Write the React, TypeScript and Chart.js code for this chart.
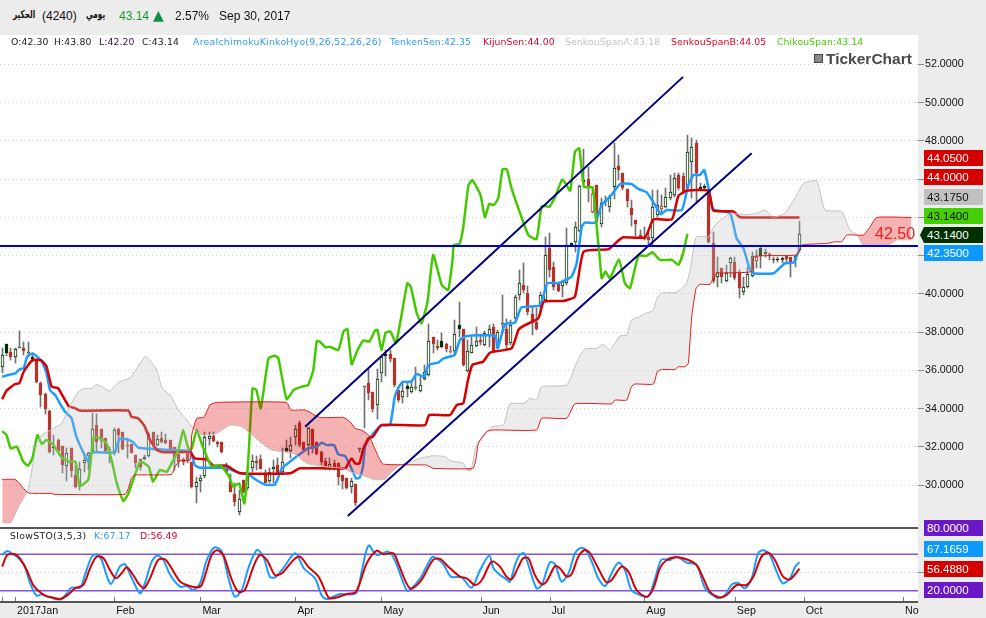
import { useEffect, useRef } from 'react';
import Chart from 'chart.js/auto';

type Pt = [number, number]; // [bar index, value]

const BAR_SLOTS = 213; // trading bars + 26 forward bars of the cloud

const opens = [
  36.2,36.93,36.95,36.72,37.2,37.17,36.95,36.6,36.55,35.32,
  34.77,33.88,31.95,32.36,32.05,31.0,31.93,30.53,29.95,31.14,
  31.55,31.8,33.15,32.92,32.45,31.9,31.66,32.94,32.76,32.1,
  32.13,31.58,31.35,31.35,31.53,32.8,32.1,32.45,32.36,32.36,
  31.98,31.63,31.35,31.63,31.23,29.92,30.23,30.5,32.42,32.57,
  32.27,32.24,30.88,30.23,29.52,28.62,30.27,29.83,30.9,31.26,
  31.35,30.53,30.23,30.83,31.05,30.7,31.8,31.8,32.5,33.23,
  32.27,32.1,32.92,32.25,31.75,31.26,30.91,31.14,31.14,30.53,
  30.4,29.92,30.04,31.9,35.12,35.33,34.86,34.18,35.85,36.77,
  36.84,36.63,34.98,34.63,35.05,34.89,35.1,34.91,35.54,35.75,
  37.73,37.28,37.24,37.38,37.03,37.03,38.19,38.15,35.99,36.93,
  37.3,37.59,37.35,37.82,38.26,37.16,38.45,38.15,37.42,38.73,
  39.93,40.47,40.07,38.95,38.55,39.34,39.68,42.42,41.43,40.64,
  40.42,40.56,42.58,42.74,43.29,45.85,46.0,45.23,45.7,43.64,
  44.8,44.53,45.61,46.69,46.31,45.47,44.48,43.87,43.09,43.0,
  43.0,42.95,44.13,44.6,44.53,45.0,45.18,46.22,46.17,45.53,
  46.89,47.88,45.51,45.56,45.35,42.65,40.87,41.34,40.7,41.64,
  41.66,41.08,40.12,40.38,40.94,41.92,41.99,42.11,42.07,41.81,
  41.78,41.76,41.99,41.92,41.78,42.3,
];
const closes = [
  36.8,37.38,36.72,37.1,37.2,37.03,36.95,36.7,35.4,34.7,
  33.97,31.75,31.98,31.8,31.05,31.7,30.76,29.92,30.83,31.3,
  31.66,32.92,32.27,32.33,31.8,31.85,32.87,32.62,31.89,32.08,
  31.7,31.14,30.97,31.45,32.7,32.1,32.4,32.27,32.2,31.87,
  31.4,31.23,31.23,31.28,29.92,30.15,30.35,32.5,32.57,32.33,
  32.15,31.75,30.67,29.66,29.14,29.3,29.66,30.48,31.26,31.14,
  30.84,30.13,30.7,30.93,30.62,31.23,31.93,32.1,32.92,32.1,
  31.84,32.97,32.0,31.63,31.19,31.02,31.09,30.91,30.44,30.23,
  29.87,30.21,29.05,31.93,35.17,34.84,33.98,35.54,36.69,36.84,
  36.62,35.24,34.45,34.93,35.19,35.12,35.15,35.24,35.94,37.56,
  37.4,37.17,37.56,37.12,36.95,37.89,38.36,36.29,37.0,37.31,
  37.52,37.5,37.98,38.15,37.02,38.0,38.5,37.33,38.4,39.82,
  40.56,40.21,39.07,38.5,38.17,39.93,42.04,41.25,40.38,40.17,
  40.64,42.56,42.65,43.49,45.65,45.96,45.61,44.31,43.78,44.74,
  44.85,45.0,46.57,46.48,45.53,44.86,44.13,43.66,42.91,42.88,
  42.82,44.53,44.65,44.46,45.05,45.35,46.05,45.53,45.35,47.44,
  47.67,46.31,45.58,45.67,42.74,40.7,41.17,40.87,41.08,41.87,
  40.82,40.33,40.35,41.03,41.99,41.74,42.42,42.21,41.99,41.76,
  41.85,41.87,41.85,41.69,42.0,43.14,
];
const highs = [
  37.15,37.4,37.15,37.15,38.06,37.47,37.47,36.9,36.6,35.4,
  34.8,33.93,32.6,32.4,32.05,31.93,31.93,31.05,31.22,31.66,
  31.75,33.75,33.7,32.92,32.45,32.0,33.0,33.0,32.76,32.45,
  32.13,31.58,31.35,31.58,32.8,32.8,32.6,32.8,32.7,32.36,
  31.98,31.63,31.4,31.75,31.23,30.45,30.53,32.8,32.8,32.8,
  32.3,32.24,31.14,30.58,30.1,29.74,30.27,30.58,31.58,31.53,
  31.58,30.8,30.88,31.3,31.4,31.93,32.36,32.5,33.15,33.35,
  32.27,33.06,32.92,32.25,31.8,31.4,31.4,31.31,31.14,30.53,
  30.4,30.35,30.04,31.93,35.19,36.06,34.86,36.06,36.81,37.07,
  37.07,36.63,34.98,35.47,35.41,35.41,36.2,35.71,36.28,38.43,
  37.73,37.59,37.94,37.42,37.28,38.64,39.56,38.15,37.59,37.77,
  38.26,37.85,38.06,38.38,38.43,38.12,39.97,38.67,38.64,39.95,
  41.25,41.64,40.42,39.34,39.25,40.12,43.0,43.17,41.69,40.64,
  40.75,43.43,42.65,43.78,45.7,47.57,46.66,45.61,45.7,45.0,
  45.1,45.18,47.91,47.27,46.31,45.47,44.92,43.87,43.35,43.52,
  43.26,45.44,45.44,45.18,45.53,46.22,46.31,46.31,46.31,48.32,
  48.14,48.05,45.8,45.75,45.44,43.26,41.95,41.34,41.52,41.95,
  41.95,41.25,40.91,41.43,42.21,42.3,42.47,42.34,42.13,41.95,
  41.92,41.95,41.99,41.95,42.04,43.8,
];
const lows = [
  35.85,36.75,36.55,36.37,37.15,36.8,36.72,36.46,35.35,34.1,
  33.72,31.67,31.6,31.7,30.65,30.23,30.45,29.83,29.75,30.7,
  30.8,31.66,31.8,31.93,31.75,31.15,31.58,31.66,31.84,31.43,
  31.66,30.88,30.8,31.3,31.45,32.0,32.05,32.2,32.15,31.8,
  30.8,30.97,31.05,31.14,29.83,29.05,29.66,30.35,32.1,32.27,
  32.0,31.7,30.6,29.66,28.9,28.44,29.57,29.74,30.7,30.8,
  30.84,30.09,30.09,30.09,30.62,30.62,31.75,31.4,32.1,32.0,
  31.75,31.58,31.66,31.57,31.05,30.79,30.79,30.79,30.0,29.78,
  29.78,29.6,28.9,31.75,33.0,34.46,33.84,33.44,35.41,35.71,
  36.46,35.15,34.37,34.32,34.63,34.8,34.98,34.89,35.5,35.71,
  36.9,37.07,37.16,36.98,36.9,36.86,37.73,36.23,35.94,36.9,
  37.24,37.33,37.28,37.24,36.98,37.1,38.0,37.07,37.33,38.55,
  39.68,40.03,38.9,37.85,38.12,38.9,39.6,40.9,40.2,40.12,
  39.86,40.47,42.58,42.21,43.26,45.7,44.83,44.22,43.7,43.52,
  44.6,44.3,44.97,45.96,45.44,44.57,43.56,43.03,42.86,42.82,
  42.56,42.56,44.04,44.13,44.48,44.92,45.09,45.44,45.23,45.44,
  45.0,44.74,45.5,45.5,42.68,40.56,40.38,40.56,40.64,40.9,
  40.73,39.77,39.95,40.3,40.9,41.34,41.34,41.95,41.78,41.6,
  41.69,41.64,41.69,40.87,41.43,42.2,
];
// up bars that read as solid dark, down bars that read as outlines
const solidUp = [1, 7, 12, 66, 89, 94, 102, 106, 132, 135, 162, 163, 176, 180];
const hollowDown = [104, 137, 153, 175];

const tenkan: Pt[] = [
  [0,35.67],[1.4,35.76],[3,35.85],[4.1,36.07],[5,36.11],[5.8,36.72],[7,36.89],[8,36.75],[9.2,36.46],[10.3,35.85],
  [11.1,34.97],[12.3,34.71],[13.4,34.28],[14.6,33.84],[16.1,33.5],[17.1,32.62],[18.4,31.92],[20,31.23],[20.8,31.7],[25,31.7],
  [26.2,31.75],[27.2,32.41],[28.9,32.4],[30.4,32.24],[31.6,31.96],[43.2,31.8],[43.7,31.84],[44.7,31.05],[45.9,30.91],[52.1,30.91],
  [52.9,30.83],[54.8,30.65],[57.1,30.58],[59,30.27],[61,30.03],[63.3,30.03],[64.9,30.88],[66.8,31.23],[69.1,31.63],[71,31.92],
  [73,32.01],[74.1,32.22],[75.3,32.1],[77,32.1],[78,31.61],[79.6,31.52],[80.7,31.05],[82.1,30.35],[83,30.41],[83.7,30.96],
  [84.2,32.0],[85.2,32.45],[88,33.14],[90,33.14],[91.1,34.63],[92.3,35.24],[93,35.4],[95,35.43],[96.1,35.81],[98,35.67],
  [98.9,36.29],[101.2,36.41],[102.4,36.63],[105,36.81],[106.2,37.59],[107.8,37.8],[114.4,37.8],[115,37.16],[116.7,38.43],[119,38.5],
  [120.5,39.3],[124.8,39.4],[126.5,40.56],[129,40.56],[132.1,40.9],[133.3,41.6],[134.5,43.52],[135.2,43.73],[137.6,43.73],[139.1,44.65],
  [141.4,45.18],[143.4,45.75],[146,45.75],[147.6,45.49],[149.5,45.32],[151.5,44.65],[152.8,44.17],[154.2,44.39],[157.7,44.39],[159.2,45.7],
  [160.4,46.22],[161.9,46.22],[162.9,46.48],[163.9,45.53],[165,44.43],[168.9,44.22],[170.4,42.91],[172,42.39],[173.4,41.34],[174.3,41.08],
  [179,41.08],[181.6,41.6],[183.6,41.64],[185,42.35],
];
const kijun: Pt[] = [
  [0,34.49],[1,34.94],[3,35.29],[4,35.33],[5,35.93],[7,36.54],[9,36.54],[10.3,36.2],[11.5,35.15],[13,35.06],
  [15.4,34.14],[17,34.02],[18,33.9],[29.3,33.9],[30,33.58],[31.6,33.49],[33.1,33.06],[34.3,32.36],[35.9,31.84],[37.4,31.72],
  [43.6,31.72],[44.7,31.4],[47.5,31.35],[49,31.02],[52,31.02],[55.2,30.62],[66.8,30.62],[69.1,30.88],[79.6,30.88],[80.3,31.14],
  [81.1,31.4],[81.9,31.14],[82.9,31.14],[83.8,31.92],[85,32.45],[86,32.53],[88,33.14],[98.1,33.14],[99.1,33.67],[103.9,33.67],
  [105.5,34.19],[107,34.28],[108,35.41],[109.1,36.29],[111.6,36.46],[113.2,36.93],[118.2,37.16],[119.8,38.12],[121,38.33],[124.4,38.73],
  [125.7,39.6],[130.2,39.63],[132.9,39.86],[134.9,42.21],[140.7,42.34],[143,42.79],[144.1,42.96],[149.2,42.96],[151.1,43.9],[155.4,43.9],
  [156.9,45.13],[158.8,45.39],[163.9,45.39],[165,44.36],[169.7,44.31],[171.2,44.01],[185,44.0],
];
const chikou: Pt[] = [
  [0,32.83],[1,32.62],[2,31.92],[3.4,32.01],[4.9,31.23],[6,31.02],[7,31.4],[8.2,32.62],[9.2,32.15],[10.3,32.36],
  [11.9,32.1],[13.8,31.45],[15.4,31.23],[17,31.23],[18,29.95],[20,30.3],[21.2,32.5],[22.7,32.45],[24.2,32.19],[25.4,31.31],
  [26.6,30.09],[28.1,29.17],[29.3,29.57],[32,31.23],[34,30.97],[35,30.18],[36.6,30.79],[38.2,30.7],[39.7,31.31],[40.9,31.84],
  [42,32.88],[43.2,31.92],[44,31.92],[45.1,32.88],[46.7,31.92],[48.6,30.97],[50.5,31.05],[52.5,30.53],[53.6,29.92],[55,30.09],
  [56.2,29.05],[57.1,31.31],[58.1,35.06],[59,34.97],[60,34.02],[61.8,36.63],[63.3,36.77],[64.1,36.63],[66,34.49],[67.6,34.97],
  [69.5,35.15],[71,35.24],[72.2,36.02],[73,37.54],[73.75,37.5],[75,37.21],[76,37.24],[78,37.07],[79.2,38.03],[80.1,38.17],
  [81.1,36.32],[82.3,36.98],[83.8,37.56],[85.2,37.51],[86.5,38.08],[87.1,38.12],[88,37.07],[89,37.98],[90.1,38.03],[91.4,37.42],
  [94,40.56],[94.8,40.38],[96.2,38.99],[97.3,38.46],[98.7,39.6],[100,42.04],[102,40.47],[103.5,40.21],[104.5,41.77],[104.8,42.56],
  [106.1,42.61],[107,43.51],[108.2,45.69],[109.1,45.95],[111,45.17],[112,44.0],[113,44.7],[114.1,44.65],[115.1,45.0],[116.1,46.51],
  [117.1,46.51],[118.2,45.52],[120.2,44.21],[122.1,43.08],[124,42.87],[125.2,44.6],[127,44.56],[128.3,45.08],[130,45.99],[131.8,45.4],
  [132.9,47.44],[133.9,47.61],[135,45.6],[137,45.57],[137.8,43.86],[138.7,41.77],[139.1,40.82],[140,41.17],[141,40.82],[143.1,41.81],
  [144.5,40.56],[145.7,40.3],[147.6,41.99],[149.5,41.99],[150.9,42.18],[152.6,41.78],[155.4,41.78],[156.9,41.52],[158,42.13],[159,43.14],
];
const senkouA: Pt[] = [
  [0,28.04],[2,28.04],[3.8,28.87],[6,29.75],[8,32.19],[9.2,32.62],[11.9,32.97],[13.8,33.23],[16.1,34.28],[17.7,34.89],
  [19.2,35.06],[20.8,35.06],[21.9,35.27],[23.5,35.1],[25,34.92],[27,35.38],[29.7,35.62],[33.1,36.72],[33.9,36.63],[35.9,36.02],
  [37.2,35.03],[39,34.71],[40.9,33.93],[42.8,33.41],[44.7,32.88],[46.3,32.62],[49.8,32.71],[52.9,33.14],[55.6,33.06],[57.1,32.8],
  [59.8,32.27],[62.5,31.84],[67.6,31.66],[70.7,31.14],[74.9,30.96],[79.2,30.88],[80.7,30.7],[84.6,30.44],[86.1,30.3],[88.8,30.3],
  [90.4,30.7],[92.3,31.05],[94.2,31.17],[96.9,31.4],[100,31.54],[102.8,31.49],[103.9,31.28],[107,31.14],[107.8,30.79],[108.8,30.75],
  [109.7,31.83],[110.5,32.27],[111.6,32.5],[113.6,33.06],[116.3,33.15],[117.8,34.25],[121,34.28],[122.5,34.54],[124,34.45],[125.2,35.15],
  [131,35.24],[133.7,36.63],[135.2,37.12],[138,37.16],[139.5,37.37],[141,37.07],[143.35,37.8],[144.9,37.85],[146,38.63],[148,38.81],
  [149.1,38.98],[151,39.12],[151.9,39.77],[153,40.06],[156.1,40.06],[157.3,40.2],[158.8,40.55],[159.6,41.25],[160.4,42.3],[161.1,43.0],
  [163.9,43.0],[165.4,43.61],[167.7,44.04],[169.3,44.22],[172,44.13],[175.1,44.22],[177,44.39],[178.9,44.01],[181.6,44.22],[184.4,45.18],
  [185.9,45.78],[189,45.92],[190.9,44.39],[194.8,44.3],[196.7,43.34],[198.4,43.08],[199.8,42.55],[206,42.6],[207.6,42.82],[211,42.82],
];
const senkouB: Pt[] = [
  [0,30.3],[3,30.3],[4,30.09],[6,29.6],[11.5,29.57],[12,29.52],[28.5,29.52],[29.3,29.83],[30,30.36],[30.8,30.53],
  [39.3,30.56],[40.1,30.97],[41.3,31.28],[43.6,31.31],[44,32.62],[45.1,33.49],[46.8,33.55],[48.2,34.19],[49.8,34.33],[66,34.33],
  [67,33.93],[70.3,33.93],[73.7,33.54],[79.2,33.54],[80.7,33.32],[81.9,32.97],[83.4,32.88],[85,32.62],[86.1,32.1],[87.3,31.49],
  [88.4,31.1],[98.5,31.05],[100,30.88],[109.2,30.88],[109.9,31.32],[110.5,32.19],[112.4,32.8],[114,32.89],[124,32.89],[125.2,33.5],
  [131,33.5],[132.9,34.25],[141.4,34.25],[142.2,34.45],[144.9,34.45],[146,35.15],[146.8,35.29],[151.1,35.29],[152,35.93],[153,36.05],
  [156.1,36.05],[156.9,36.19],[158.4,36.19],[159.2,36.37],[160,38.81],[161,40.29],[161.9,40.5],[164.2,40.5],[165,40.81],[165.8,41.08],
  [173.9,41.17],[174.3,41.95],[184.4,42.04],[185.5,42.55],[191.3,42.64],[193.3,42.73],[194.8,42.73],[196,43.08],[199.8,43.08],[201.4,43.51],
  [202.9,44.0],[211,44.0],
];
const upperChannel: Pt[] = [[70.3,33.06],[158,51.35]];
const lowerChannel: Pt[] = [[80.2,28.39],[173.9,47.36]];
const supportLine: Pt[] = [[-0.5,42.5],[212.5,42.5]];

const stoK: Pt[] = [
  [0,78.9],[1.2,85.5],[2.2,81.65],[3.8,73.4],[5.1,62.4],[6.5,32.15],[8,11.8],[9.2,14],[10.7,10.15],[12.3,6.3],
  [13.8,6.3],[15,15.65],[16.1,25],[18.1,25],[19.2,45.9],[20.8,76.15],[21.9,80],[23.1,70.65],[24.2,45.9],[25.2,31],
  [26.2,43.15],[27.3,59.65],[28.5,63.5],[30.1,40.4],[32,15.65],[33.1,32.15],[34.7,67.9],[36,77.8],[37.4,70.65],[39,45.9],
  [41.3,26.65],[42.8,27.75],[44.4,21.15],[45.9,32.15],[47.5,70.65],[49.2,91],[50.9,85.5],[52.5,40.4],[54,10.15],[55.6,21.15],
  [57.1,56.9],[59.1,87.15],[60.6,76.15],[62.1,43.15],[63.3,42],[65.2,56.9],[68,81.65],[70,56.9],[72.6,40.4],[74.1,12.9],
  [75.3,6.3],[78.4,14.55],[82.1,15.65],[83.4,51.4],[85,94.3],[86.9,78.9],[89.6,84.4],[91.1,70.65],[93.9,20.05],[95,23.9],
  [97,40.4],[99.7,75.05],[100.8,73.4],[102.4,63.5],[104.1,43.15],[106.6,42],[108.9,25],[110.9,54.1],[113,77.8],[114,56.9],
  [115.5,45.9],[116.7,40.4],[117.8,34.9],[119,62.4],[120.1,78.9],[121.1,81.65],[122.1,62.4],[124,23.9],[125.2,29.4],[127.1,66.8],
  [128.3,63.5],[129.8,34.9],[131.4,48.65],[132.9,81.65],[134.1,89.9],[135.2,88.8],[136.8,67.9],[138.3,40.4],[139.9,27.75],[141.4,48.65],
  [143,66.25],[144.5,54.15],[146,21.15],[148,12.9],[149.9,10.15],[151.5,40.4],[153,71.2],[155,70.65],[156.5,76.15],[158.8,66.25],
  [161.1,62.4],[163.1,23.9],[165,11.8],[166.2,7.4],[167.7,12.9],[169.3,30.4],[170.8,32.7],[172.3,23.9],[173.9,40.4],[175.4,81.65],
  [176.6,86.6],[178.1,78.9],[179.7,51.4],[181.1,32.15],[182.8,40.4],[184,59.65],[185,67.17],
];
const stoD: Pt[] = [
  [0,59.65],[1.2,78.9],[3,80],[4.1,73.4],[5.7,54.15],[7.2,29.4],[8.4,20],[9.9,11.8],[11.9,8.5],[13.4,6.3],
  [15,11.8],[16.9,23.9],[18.8,29.4],[20.4,56.9],[21.9,76.15],[23.5,73.4],[25,54.15],[26.4,40.4],[27.7,48.65],[28.9,58.5],
  [30.4,45.9],[31.6,32.15],[32.9,23.9],[34.3,40.4],[36.2,70.65],[37.8,71.75],[39.3,56.9],[41.3,34.9],[42.8,29.4],[45.1,25.55],
  [46.3,29.4],[48.6,78.9],[49.8,86.6],[51.3,78.9],[53.3,37.65],[54.8,18.4],[56.3,21.15],[58.3,59.65],[59.8,78.9],[61.4,70.65],
  [63.3,45.9],[64.9,48.65],[67.6,70.65],[69.1,76.15],[71,59.65],[73.4,43.15],[75.7,9.05],[76.8,7.4],[80,14.55],[82.1,18.4],
  [84.6,65.15],[86.9,86],[88.4,80],[90.8,81.65],[91.9,65.15],[94.6,23.9],[97,34.9],[100,70.65],[101.6,72.3],[103.5,59.65],
  [106.2,43.15],[107.8,40.4],[109.7,29.4],[111.3,37.65],[113.6,67.9],[115.5,59.65],[117,43.15],[118.2,38.75],[119.8,59.65],[120.9,73.4],
  [122.1,73.4],[123.6,45.9],[125.2,30.5],[126.3,34.9],[128.3,60.75],[129.4,56.9],[131,43.15],[132.1,47],[133.7,76.15],[135.2,87.15],
  [136.4,81.65],[138.3,56.9],[140.2,33.8],[141.4,37.65],[143.7,59.65],[145.3,51.4],[147.2,21.15],[149.5,10.15],[151.1,23.9],[152.6,56.9],
  [154.2,70.65],[156.5,75.05],[159.2,70.65],[161.1,62.4],[162.7,40.4],[164.2,18.4],[166.5,9.05],[168.1,12.9],[170.4,29.4],[172.7,29.4],
  [174.3,43.15],[176.2,76.15],[177.8,82.75],[179.3,70.65],[181.2,43.15],[182.8,38.75],[185,56.49],
];
const stoHigh: Pt[] = [[-0.5,80],[212.5,80]];
const stoLow: Pt[] = [[-0.5,20],[212.5,20]];

const priceTicks = [30, 32, 34, 36, 38, 40, 42, 44, 46, 48, 50, 52];
const monthBars = [0, 3, 26, 46, 68, 88, 111, 127, 149, 170, 186, 209];
const monthLabels = ['', '2017Jan', 'Feb', 'Mar', 'Apr', 'May', 'Jun', 'Jul', 'Aug', 'Sep', 'Oct', 'No'];

const ohlcLegend = [
  { text: 'O:42.30', left: 11, color: '#222' },
  { text: 'H:43.80', left: 54, color: '#222' },
  { text: 'L:42.20', left: 99, color: '#3a1040' },
  { text: 'C:43.14', left: 142, color: '#222' },
  { text: 'AreaIchimokuKinkoHyo(9,26,52,26,26)', left: 193, color: '#2f9bf5', spacing: '0.27px' },
  { text: 'TenkenSen:42.35', left: 390, color: '#2f9bf5' },
  { text: 'KijunSen:44.00', left: 483, color: '#e0002a' },
  { text: 'SenkouSpanA:43.18', left: 565, color: '#c4c4c4' },
  { text: 'SenkouSpanB:44.05', left: 671, color: '#e0002a' },
  { text: 'ChikouSpan:43.14', left: 777, color: '#44d000' },
];
const stoLegend = [
  { text: 'SlowSTO(3,5,3)', left: 10, color: '#222', spacing: '0.35px' },
  { text: 'K:67.17', left: 94, color: '#2f9bf5' },
  { text: 'D:56.49', left: 140, color: '#e0002a' },
];
const badges = [
  { text: '44.0500', top: 150, bg: '#d40000', color: '#fff' },
  { text: '44.0000', top: 169, bg: '#d40000', color: '#fff' },
  { text: '43.1750', top: 189, bg: '#c0c0c0', color: '#111' },
  { text: '43.1400', top: 208, bg: '#44d000', color: '#111' },
  { text: '43.1400', top: 227, bg: '#003000', color: '#fff', arrow: true },
  { text: '42.3500', top: 245, bg: '#0a99ff', color: '#fff' },
  { text: '80.0000', top: 520, bg: '#6a17c8', color: '#fff' },
  { text: '67.1659', top: 541, bg: '#0a99ff', color: '#fff' },
  { text: '56.4880', top: 561, bg: '#d40000', color: '#fff' },
  { text: '20.0000', top: 582, bg: '#6a17c8', color: '#fff' },
];

const AXIS_FONT = { family: '"Liberation Sans"', size: 10.7 };

const pts = (list: Pt[]) => list.map(([x, y]) => ({ x, y }));

function lineSet(data: Pt[], color: string, width: number, order: number, extra: object = {}) {
  return {
    type: 'line' as const,
    data: pts(data),
    borderColor: color,
    borderWidth: width,
    pointRadius: 0,
    tension: 0.15,
    order,
    ...extra,
  };
}

// snap candles to whole pixels so thin bodies and wicks stay sharp
const crispBars = {
  id: 'crispBars',
  beforeDatasetsDraw(chart: any) {
    chart.getSortedVisibleDatasetMetas().forEach((meta: any) => {
      if (meta.type !== 'bar') return;
      meta.data.forEach((bar: any) => {
        bar.x = Math.floor(bar.x) + 0.5;
        bar.y = Math.round(bar.y);
        bar.base = Math.round(bar.base);
        if (bar.base === bar.y) bar.base = bar.y + 1;
      });
    });
  },
};

// small month marks stand inside the plot, on its bottom edge
const monthMarks = {
  id: 'monthMarks',
  afterDraw(chart: any) {
    const { ctx, chartArea, scales } = chart;
    ctx.save();
    ctx.strokeStyle = '#777';
    monthBars.forEach((bar) => {
      const x = Math.round(scales.x.getPixelForValue(bar)) + 0.5;
      ctx.beginPath();
      ctx.moveTo(x, chartArea.bottom - 5);
      ctx.lineTo(x, chartArea.bottom);
      ctx.stroke();
    });
    ctx.restore();
  },
};

function xScale(show: boolean) {
  return {
    type: 'linear' as const,
    min: -0.5,
    max: BAR_SLOTS - 0.5,
    offset: false,
    display: show,
    grid: { display: false, drawTicks: false },
    border: { display: false },
    afterBuildTicks: (s: any) => {
      s.ticks = monthBars.map((value) => ({ value }));
    },
    afterFit: (s: any) => {
      s.height = show ? 16 : 0;
      s.paddingLeft = 0;
      s.paddingRight = 0;
    },
    ticks: {
      autoSkip: false,
      maxRotation: 0,
      align: 'start' as const,
      padding: 3,
      labelOffset: 2,
      color: '#111',
      font: AXIS_FONT,
      callback: (v: any) => monthLabels[monthBars.indexOf(v)] ?? '',
    },
  };
}

function yScale(min: number, max: number, tickValues: number[]) {
  return {
    position: 'right' as const,
    min,
    max,
    afterBuildTicks: (s: any) => {
      s.ticks = tickValues.map((value) => ({ value }));
    },
    afterFit: (s: any) => {
      s.width = 68;
      s.paddingTop = 0;
      s.paddingBottom = 0;
    },
    grid: { color: '#cfcfcf', tickColor: '#888', tickLength: 6, tickBorderDash: [] },
    border: { display: false, dash: [1, 3] },
    ticks: {
      padding: 1,
      color: '#111',
      font: AXIS_FONT,
      callback: (v: any) => Number(v).toFixed(4),
    },
  };
}

export default function App() {
  const priceRef = useRef<HTMLCanvasElement>(null);
  const stoRef = useRef<HTMLCanvasElement>(null);

  useEffect(() => {
    if (!priceRef.current || !stoRef.current) return;

    const bodyFill = opens.map((o, i) => {
      if (closes[i] >= o) return solidUp.includes(i) ? '#003000' : '#ffffff';
      return hollowDown.includes(i) ? '#ffffff' : '#b8322a';
    });
    const bodyEdge = opens.map((o, i) => (closes[i] >= o ? '#003000' : '#b8322a'));

    // datasets 0 and 1 are the cloud edges: A fills towards B
    const price = new Chart(priceRef.current, {
      type: 'bar',
      data: {
        datasets: [
          lineSet(senkouB, '#e01a1a', 1, 2),
          lineSet(senkouA, '#c0c0c0', 1, 3, {
            fill: { target: 0, above: 'rgba(192,192,192,0.3)', below: 'rgba(220,0,0,0.3)' },
          }),
          lineSet(chikou, '#44c800', 2.5, 4),
          lineSet(kijun, '#d60000', 2.5, 5),
          lineSet(tenkan, '#1e9bff', 2.5, 6),
          lineSet(upperChannel, '#000080', 2, 1),
          lineSet(lowerChannel, '#000080', 2, 1),
          lineSet(supportLine, '#0000d8', 2, 0),
          {
            type: 'bar' as const,
            data: opens.map((o, i) => ({ x: i, y: [o, closes[i]] })),
            backgroundColor: bodyFill,
            borderColor: bodyEdge,
            borderWidth: 1,
            borderSkipped: false,
            barThickness: 3,
            grouped: false,
            order: 7,
          },
          {
            type: 'bar' as const,
            data: opens.map((_, i) => ({ x: i, y: [lows[i], highs[i]] })),
            backgroundColor: '#707070',
            barThickness: 1,
            grouped: false,
            order: 8,
          },
        ] as any,
      },
      options: {
        responsive: false,
        animation: false,
        events: [],
        plugins: { legend: { display: false }, tooltip: { enabled: false } },
        scales: {
          x: xScale(false),
          y: yScale(27.76, 53.54, priceTicks),
        },
      },
      plugins: [crispBars],
    });

    const sto = new Chart(stoRef.current, {
      type: 'line',
      data: {
        datasets: [
          lineSet(stoD, '#d90000', 2, 0, { tension: 0.3 }),
          lineSet(stoK, '#1a9cff', 2, 1, { tension: 0.3 }),
          lineSet(stoHigh, '#8a50d8', 1.5, 2),
          lineSet(stoLow, '#8a50d8', 1.5, 2),
        ],
      },
      options: {
        responsive: false,
        animation: false,
        events: [],
        plugins: { legend: { display: false }, tooltip: { enabled: false } },
        scales: {
          x: xScale(true),
          y: yScale(1.4, 123.3, [50]),
        },
      },
      plugins: [monthMarks],
    });

    return () => {
      price.destroy();
      sto.destroy();
    };
  }, []);

  const abs = { position: 'absolute' as const, whiteSpace: 'nowrap' as const };
  const small = { ...abs, font: '9.3px "DejaVu Sans"', letterSpacing: '0.1px' };
  const head = { ...abs, top: 9, font: '12px "Liberation Sans"', color: '#111' };
  const arabic = { ...head, top: 8, font: 'bold 11px "DejaVu Sans"', transform: 'scaleX(0.66)', transformOrigin: 'left' };

  return (
    <div style={{ position: 'absolute', left: 0, top: 0, width: 986, height: 618, background: '#ececec', overflow: 'hidden' }}>
      <div style={{ ...abs, left: 0, top: 35, width: 918, height: 567, background: '#fff' }} />
      <canvas ref={priceRef} width={986} height={493} style={{ position: 'absolute', left: 0, top: 35 }} />
      <canvas ref={stoRef} width={986} height={90} style={{ position: 'absolute', left: 0, top: 528 }} />
      <div style={{ ...abs, left: 0, top: 527, width: 918, height: 2, background: '#555' }} />
      <div style={{ ...abs, left: 0, top: 601, width: 918, height: 2, background: '#555' }} />

      <span style={{ ...arabic, left: 13 }}>الحكير</span>
      <span style={{ ...head, left: 42 }}>(4240)</span>
      <span style={{ ...arabic, left: 86 }}>يومي</span>
      <span style={{ ...head, left: 119, color: '#1a9a2a' }}>43.14</span>
      <span style={{ ...head, left: 153, top: 7, color: '#109048', font: '14px "DejaVu Sans"' }}>▲</span>
      <span style={{ ...head, left: 175 }}>2.57%</span>
      <span style={{ ...head, left: 219 }}>Sep 30, 2017</span>

      {ohlcLegend.map((l) => (
        <span key={l.text} style={{ ...small, left: l.left, top: 36, color: l.color, letterSpacing: l.spacing ?? '0.1px' }}>{l.text}</span>
      ))}
      {stoLegend.map((l) => (
        <span key={l.text} style={{ ...small, left: l.left, top: 530, color: l.color, letterSpacing: l.spacing ?? '0.1px' }}>{l.text}</span>
      ))}

      <span style={{ ...abs, left: 814, top: 54, width: 9, height: 9, background: '#8a8a8a', border: '1px solid #444', boxSizing: 'border-box' }} />
      <span style={{ ...abs, left: 826, top: 50, font: 'bold 15.5px "Liberation Sans"', color: '#4a4a4a' }}>TickerChart</span>
      <span style={{ ...abs, left: 875, top: 225, font: '16px "Liberation Sans"', color: '#f02020' }}>42.50</span>

      {badges.map((b, i) => (
        <div
          key={i}
          style={{
            ...abs,
            left: b.arrow ? 920 : 924,
            top: b.top,
            width: b.arrow ? 63 : 59,
            height: 16,
            boxSizing: 'border-box',
            paddingLeft: b.arrow ? 7 : 3,
            background: b.bg,
            color: b.color,
            font: '11.5px/16px "Liberation Sans"',
            clipPath: b.arrow ? 'polygon(0 50%, 4px 0, 100% 0, 100% 100%, 4px 100%)' : undefined,
          }}
        >
          {b.text}
        </div>
      ))}
    </div>
  );
}
